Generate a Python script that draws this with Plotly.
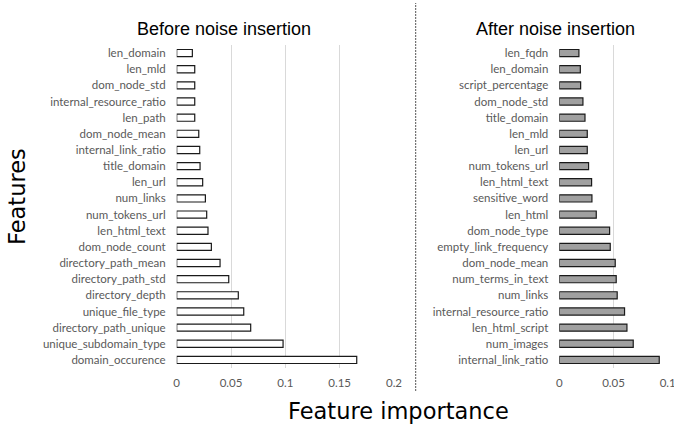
import plotly.graph_objects as go

# Data (top-to-bottom order as shown)
before_features = ["len_domain", "len_mld", "dom_node_std", "internal_resource_ratio", "len_path",
                   "dom_node_mean", "internal_link_ratio", "title_domain", "len_url", "num_links",
                   "num_tokens_url", "len_html_text", "dom_node_count", "directory_path_mean",
                   "directory_path_std", "directory_depth", "unique_file_type", "directory_path_unique",
                   "unique_subdomain_type", "domain_occurence"]
before_values = [0.0144, 0.0166, 0.0166, 0.0166, 0.0166,
                 0.0203, 0.0212, 0.0215, 0.0239, 0.0264,
                 0.0276, 0.0288, 0.0319, 0.0399,
                 0.0479, 0.0567, 0.0617, 0.0681,
                 0.0979, 0.1657]

after_features = ["len_fqdn", "len_domain", "script_percentage", "dom_node_std", "title_domain",
                  "len_mld", "len_url", "num_tokens_url", "len_html_text", "sensitive_word",
                  "len_html", "dom_node_type", "empty_link_frequency", "dom_node_mean",
                  "num_terms_in_text", "num_links", "internal_resource_ratio", "len_html_script",
                  "num_images", "internal_link_ratio"]
after_values = [0.0181, 0.0194, 0.0197, 0.0218, 0.0237,
                0.0258, 0.0258, 0.0270, 0.0298, 0.0301,
                0.0341, 0.0464, 0.0470, 0.0516,
                0.0525, 0.0534, 0.0602, 0.0624,
                0.0682, 0.0922]

left_ticks = [0, 0.05, 0.1, 0.15, 0.2]
left_ticktext = ["0", "0.05", "0.1", "0.15", "0.2"]
right_ticks = [0, 0.05, 0.1]
right_ticktext = ["0", "0.05", "0.1"]

W, H = 674, 431
tick_font = dict(family="Lato", size=11.5, color="#595959")

fig = go.Figure()
fig.add_trace(go.Bar(x=before_values, y=before_features, orientation="h",
                     marker=dict(color="white", line=dict(color="#1a1a1a", width=1.2)),
                     xaxis="x", yaxis="y", showlegend=False))
fig.add_trace(go.Bar(x=after_values, y=after_features, orientation="h",
                     marker=dict(color="#a0a0a0", line=dict(color="#1a1a1a", width=1.2)),
                     xaxis="x2", yaxis="y2", showlegend=False))

ydom = [(H - 368) / H, (H - 45) / H]
common_x = dict(showgrid=True, gridcolor="#d9d9d9", gridwidth=1, zeroline=False, showline=False,
                tickfont=tick_font, ticks="", ticklabelstandoff=6, automargin=False,
                ticklabeloverflow="allow")
common_y = dict(domain=ydom, autorange="reversed", tickfont=tick_font, showgrid=False,
                showline=False, zeroline=False, ticks="", ticklabelstandoff=10, automargin=False)
fig.update_layout(
    width=W, height=H,
    margin=dict(l=0, r=0, t=0, b=0, autoexpand=False),
    paper_bgcolor="white", plot_bgcolor="white",
    bargap=0.56,
    xaxis=dict(domain=[176.7 / W, 394 / W], range=[0, 0.2], tickvals=left_ticks, ticktext=left_ticktext,
               anchor="y", **common_x),
    yaxis=dict(anchor="x", **common_y),
    xaxis2=dict(domain=[559.3 / W, 667.7 / W], range=[0, 0.1], tickvals=right_ticks, ticktext=right_ticktext,
                anchor="y2", **common_x),
    yaxis2=dict(anchor="x2", **common_y),
)

title_font = dict(family="Liberation Sans", size=18, color="#000000")
axis_title_font = dict(family="DejaVu Sans", size=22.5, color="#000000")
fig.add_annotation(text="Before noise insertion", x=223.5 / W, y=1 - 29 / H, xref="paper", yref="paper",
                   xanchor="center", yanchor="middle", showarrow=False, font=title_font)
fig.add_annotation(text="After noise insertion", x=555 / W, y=1 - 29 / H, xref="paper", yref="paper",
                   xanchor="center", yanchor="middle", showarrow=False, font=title_font)
fig.add_annotation(text="Features", x=16.5 / W, y=1 - 196.5 / H, xref="paper", yref="paper",
                   xanchor="center", yanchor="middle", textangle=-90, showarrow=False, font=axis_title_font)
fig.add_annotation(text="Feature importance", x=399 / W, y=1 - 411 / H, xref="paper", yref="paper",
                   xanchor="center", yanchor="middle", showarrow=False, font=axis_title_font)

fig.add_shape(type="line", xref="paper", yref="paper", x0=415.7 / W, x1=415.7 / W,
              y0=1 - 391 / H, y1=1 - 3 / H, line=dict(color="#555555", width=1, dash="2px,1px"))

fig.write_html("out.html", config={"displayModeBar": False},
               post_script="document.body.style.margin='0';")
